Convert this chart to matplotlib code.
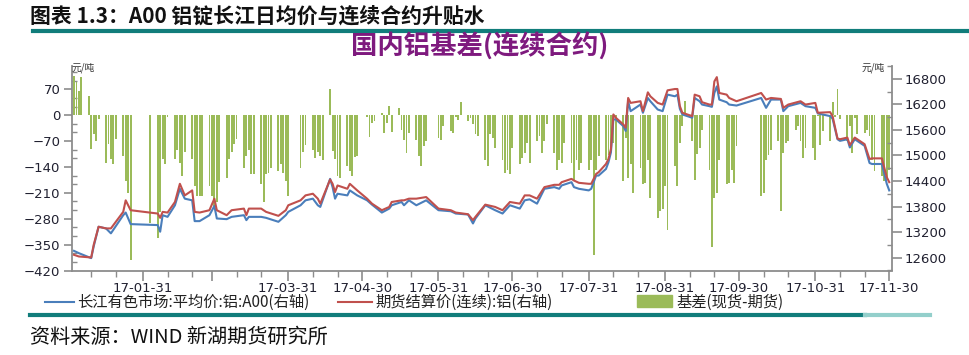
import pandas as pd
import matplotlib
matplotlib.use("Agg")
import matplotlib.pyplot as plt
import matplotlib.dates as mdates
from matplotlib.lines import Line2D
from matplotlib.patches import Rectangle
from matplotlib.ticker import FixedLocator, MultipleLocator

plt.rcParams["font.family"] = ["DejaVu Sans"]
CJK = ["Noto Sans CJK SC", "DejaVu Sans"]

# ---- basis (spot - futures), one value per trading day, Jan 3 .. Nov 30 2017
holidays = ["2017-01-27", "2017-01-30", "2017-01-31", "2017-02-01", "2017-02-02",
            "2017-04-03", "2017-04-04", "2017-05-01", "2017-05-29", "2017-05-30",
            "2017-10-02", "2017-10-03", "2017-10-04", "2017-10-05", "2017-10-06"]
basis = [
    107, 90, 66, 103,
    52, -92, -52, -70, -11,
    -128, -79, -119, -133, -65,
    -110, -178, -210, -391,
    -291,
    -331, -263, -119, -133, -5,
    -119, -93, -130, -165, -100,
    -119, -192, -219, -219, -219,
    -192, -219, -245, -235, -180,
    -170, -119, -100, -79, -65,
    -142, -110, -93, -160, -160,
    -187, -236, -160, -155, -142,
    -150, -132, -157, -178, -219,
    -142, -100, -80,
    -95, -115, -100, -110, -120,
    70, -97, -119, -165, -170,
    -137, -150, -165, -114, -110,
    -5, -60, -20, -15,
    6, -48, -20, 25, -45,
    20, -40, -66, -102, -48,
    -66, -110, -138, -84, -70,
    -61, -66, -30,
    -44, -48, -5, -12, 36,
    -16, -7, -25, -52, -57,
    -120, -138, -52, -61, -88,
    -120, -156, -147, -160, -88,
    -133, -115, -102, -75, -129,
    -70, -57, -102, -70, -25,
    -102, -147, -120, -129, -75,
    -129, -174, -120, -147, -129,
    -147, -120, -377, -147, -110,
    -120, -107, -93, -75, -120,
    -178, -61, -169, -133, -210,
    -142, -187, -183, -120, -224,
    -277, -260, -253, -192, -310,
    -138, -192, -75, -30, 38,
    -70, -174, -106, -88, -39,
    -147, -356, -224, -210, -120,
    -187, -183, -147, -183, -84,
    -219, -210, -120, -107, -93,
    -70, -260, -102, -75, -70,
    -39, -30, -70, -115, -88,
    -88, -120, -3, -80, -43,
    -70, 35, -5, 70, -10,
    -70, -30, -102, -8, -50,
    -48, -39, -57, -120, -150,
    -165, -178, -174, -147,
]

# ---- price lines (right axis)
line_dates = [
    "2017-01-03", "2017-01-05", "2017-01-10", "2017-01-11", "2017-01-13", "2017-01-16", "2017-01-18",
    "2017-01-23", "2017-01-24", "2017-01-26",
    "2017-02-06", "2017-02-07", "2017-02-08", "2017-02-10", "2017-02-13", "2017-02-15", "2017-02-17",
    "2017-02-20", "2017-02-21", "2017-02-23", "2017-02-27",
    "2017-03-01", "2017-03-02", "2017-03-06", "2017-03-08", "2017-03-13", "2017-03-14", "2017-03-15",
    "2017-03-20", "2017-03-22", "2017-03-27", "2017-03-30", "2017-03-31",
    "2017-04-05", "2017-04-07", "2017-04-10", "2017-04-12", "2017-04-13", "2017-04-17", "2017-04-18",
    "2017-04-19", "2017-04-20", "2017-04-24", "2017-04-25", "2017-04-28",
    "2017-05-02", "2017-05-04", "2017-05-08", "2017-05-11", "2017-05-12", "2017-05-16", "2017-05-17",
    "2017-05-19", "2017-05-22", "2017-05-26", "2017-05-31",
    "2017-06-05", "2017-06-07", "2017-06-12", "2017-06-14", "2017-06-15", "2017-06-19", "2017-06-23",
    "2017-06-26", "2017-06-29",
    "2017-07-03", "2017-07-05", "2017-07-07", "2017-07-10", "2017-07-13", "2017-07-17", "2017-07-19",
    "2017-07-20", "2017-07-24", "2017-07-25", "2017-07-27", "2017-07-31",
    "2017-08-01", "2017-08-03", "2017-08-04", "2017-08-07", "2017-08-08", "2017-08-09", "2017-08-10",
    "2017-08-11", "2017-08-14", "2017-08-15", "2017-08-16", "2017-08-17", "2017-08-21", "2017-08-22",
    "2017-08-24", "2017-08-25", "2017-08-28", "2017-08-30",
    "2017-09-01", "2017-09-04", "2017-09-05", "2017-09-06", "2017-09-07", "2017-09-11", "2017-09-12",
    "2017-09-14", "2017-09-15", "2017-09-18", "2017-09-19", "2017-09-20", "2017-09-21", "2017-09-22",
    "2017-09-25", "2017-09-26", "2017-09-29",
    "2017-10-09", "2017-10-11", "2017-10-13", "2017-10-17", "2017-10-18", "2017-10-20", "2017-10-25",
    "2017-10-27", "2017-10-31",
    "2017-11-01", "2017-11-06", "2017-11-07", "2017-11-09", "2017-11-10", "2017-11-13", "2017-11-14",
    "2017-11-16", "2017-11-20", "2017-11-22", "2017-11-23", "2017-11-27", "2017-11-29", "2017-11-30",
]
spot_price = [
    12761, 12707, 12590, 12862, 13327, 13288, 13172, 13598, 13660, 13389,
    13366, 13210, 13598, 13559, 13831, 14218, 13986, 13947, 13459, 13459, 13598,
    13815, 13521, 13505, 13559, 13598, 13482, 13559, 13559, 13536, 13443, 13598, 13676,
    13831, 13947, 13986, 13831, 13792, 14451, 14257, 13986, 14102, 14063, 14180, 14063,
    13947, 13846, 13660, 13753, 13831, 13908, 13831, 13947, 13831, 13947, 13715,
    13691, 13637, 13614, 13404, 13521, 13831, 13715, 13637, 13831,
    13753, 13947, 13970, 13869, 14218, 14257, 14218, 14296, 14373, 14257, 14218, 14180,
    14218, 14528, 14528, 14684, 14839, 15071, 15847, 15847, 15691, 15575, 16273, 16040,
    16195, 16002, 16350, 16273, 16079, 16040,
    16428, 16389, 16428, 16095, 15963, 15885, 16350, 16273, 16195, 16157, 16141, 16467,
    16622, 16312, 16250, 16195, 16172,
    16350, 16118, 16312, 16312, 16040, 16157, 16234, 16157, 16118,
    15986, 15924, 15862, 15381, 15343, 15381, 15188, 15381, 15226, 14823, 14800, 14800,
    14335, 14180,
]
fut_price = [
    12668, 12629, 12606, 12900, 13327, 13288, 13288, 13676, 13947, 13715,
    13637, 13536, 13676, 13660, 13908, 14335, 14063, 14180, 13676, 13660, 13715,
    13986, 13715, 13598, 13715, 13753, 13598, 13753, 13753, 13676, 13583, 13715, 13831,
    13947, 14063, 14102, 13986, 13869, 14435, 14335, 14141, 14296, 14218, 14335, 14180,
    13986, 13869, 13715, 13792, 13908, 13947, 13947, 13986, 13986, 14024, 13753,
    13715, 13660, 13621, 13482, 13559, 13846, 13792, 13715, 13908,
    13869, 14063, 14063, 13986, 14257, 14311, 14311, 14373, 14451, 14412, 14358, 14335,
    14335, 14567, 14606, 14800, 14916, 15149, 15963, 15885, 15730, 15653, 16350, 16234,
    16273, 16040, 16482, 16389, 16234, 16195,
    16529, 16560, 16560, 16157, 16002, 15924, 16428, 16389, 16250, 16195, 16195, 16738,
    16839, 16467, 16428, 16350, 16273,
    16467, 16312, 16350, 16327, 16118, 16195, 16273, 16195, 16234,
    16002, 16017, 15924, 15397, 15381, 15420, 15242, 15420, 15265, 14916, 14932, 14932,
    14490, 14373,
]

month_ends = ["2017-01-31", "2017-02-28", "2017-03-31", "2017-04-30", "2017-05-31", "2017-06-30",
              "2017-07-31", "2017-08-31", "2017-09-30", "2017-10-31", "2017-11-30"]
x_labels = ["17-01-31", "", "17-03-31", "17-04-30", "17-05-31", "17-06-30",
            "17-07-31", "17-08-31", "17-09-30", "17-10-31", "17-11-30"]

BLUE = "#4A7EBB"
RED = "#C0504D"
GREEN = "#9BBB59"
TEAL = "#117D7B"
AXC = "#8C8C8C"
TXT = "#202030"

W, H = 969, 355


def fx(px):
    return px / W


def fy(py):
    return 1 - py / H


trade_days = pd.bdate_range("2017-01-03", "2017-11-30")
trade_days = trade_days[~trade_days.isin(pd.to_datetime(holidays))]
ld = pd.to_datetime(line_dates)

fig = plt.figure(figsize=(W / 100, H / 100), dpi=100)
ax = fig.add_axes([fx(71.5), fy(270.5), fx(891.7) - fx(71.5), fy(66) - fy(270.5)])
ax.bar(trade_days, basis, width=0.75, color=GREEN, linewidth=0, zorder=2)
ax.set_ylim(-420, 133)
ax.set_xlim(pd.Timestamp("2017-01-02"), pd.Timestamp("2017-12-01"))

ax2 = ax.twinx()
ax2.plot(ld, spot_price, color=BLUE, lw=1.5)
ax2.plot(ld, fut_price, color=RED, lw=1.5)
ax2.set_ylim(12300, 17100)

# axes styling
for a in (ax, ax2):
    a.spines["top"].set_visible(False)
    for s in a.spines.values():
        s.set_color(AXC)
        s.set_linewidth(1.3)
ax.spines["right"].set_visible(False)
ax2.spines["left"].set_visible(False)
ax2.spines["bottom"].set_visible(False)

ax.set_yticks(list(range(-420, 71, 70)))
ax.yaxis.set_minor_locator(MultipleLocator(70 / 3))
ax.tick_params(axis="y", which="major", direction="out", length=6, width=1.2, color=AXC,
               labelsize=9.5, labelcolor=TXT, pad=2)
ax.tick_params(axis="y", which="minor", direction="in", length=3.5, width=1, color=AXC)

ax2.set_yticks(list(range(12600, 16801, 600)))
ax2.yaxis.set_minor_locator(MultipleLocator(300))
ax2.tick_params(axis="y", which="major", direction="out", length=7, width=1.2, color=AXC,
                labelsize=9.5, labelcolor=TXT, pad=2)
ax2.tick_params(axis="y", which="minor", direction="in", length=3.5, width=1, color=AXC)

me = pd.to_datetime(month_ends)
ax.xaxis.set_major_locator(FixedLocator(mdates.date2num(me)))
ax.set_xticklabels(x_labels)
minor_days = [d for m in range(1, 12) for d in (pd.Timestamp(2017, m, 10), pd.Timestamp(2017, m, 20))]
ax.xaxis.set_minor_locator(FixedLocator(mdates.date2num(minor_days)))
ax.tick_params(axis="x", which="major", direction="out", length=7, width=1.2, color=AXC,
               labelsize=9.5, labelcolor=TXT, pad=1)
ax.tick_params(axis="x", which="minor", direction="out", length=4, width=1, color=AXC)

# unit labels
fig.text(fx(72), fy(68), "元/吨", fontsize=7, family=CJK, color="#333333", va="center")
fig.text(fx(862), fy(68), "元/吨", fontsize=7, family=CJK, color="#333333", va="center")

# chart title
fig.text(fx(480), fy(45.5), "国内铝基差(连续合约)", fontsize=19, family=CJK, weight="bold",
         color="#7E1A7E", ha="center", va="center")

# header / footer
fig.text(fx(30), fy(16.5), "图表 1.3：A00 铝锭长江日均价与连续合约升贴水", fontsize=15,
         family=CJK, weight="bold", color="#111111", va="center")
fig.add_artist(Line2D([fx(33), fx(969)], [fy(31), fy(31)], color=TEAL, lw=3))
fig.add_artist(Line2D([fx(30), fx(865)], [fy(315), fy(315)], color=TEAL, lw=3))
fig.add_artist(Line2D([fx(865), fx(930)], [fy(315), fy(315)], color="#93CFCB", lw=3))
fig.text(fx(30), fy(337), "资料来源：WIND 新湖期货研究所", fontsize=14.5, family=CJK,
         color="#111111", va="center")

# legend
ly = fy(302)
fig.add_artist(Line2D([fx(45), fx(74)], [ly, ly], color=BLUE, lw=1.5))
fig.text(fx(77), ly, "长江有色市场:平均价:铝:A00(右轴)", fontsize=11, family=CJK,
         color="#222222", va="center")
fig.add_artist(Line2D([fx(338), fx(372)], [ly, ly], color=RED, lw=1.5))
fig.text(fx(375), ly, "期货结算价(连续):铝(右轴)", fontsize=11, family=CJK,
         color="#222222", va="center")
fig.add_artist(Rectangle((fx(637), fy(307)), fx(35), fy(295) - fy(307), color=GREEN,
                         transform=fig.transFigure))
fig.text(fx(676), ly, "基差(现货-期货)", fontsize=11, family=CJK, color="#222222", va="center")

fig.savefig("out.png", dpi=100)
